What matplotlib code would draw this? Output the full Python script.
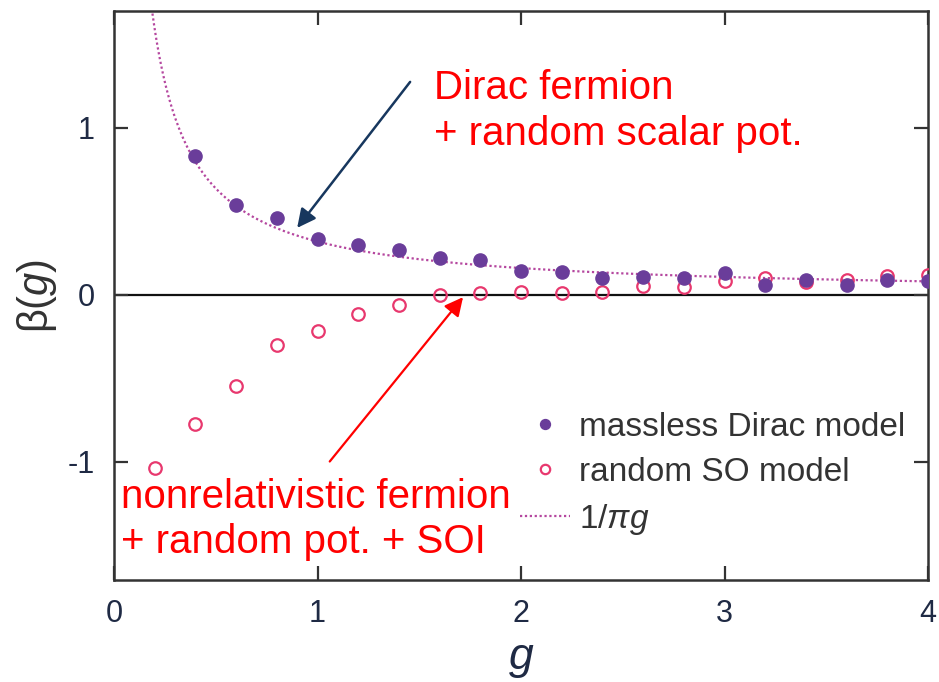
import numpy as np
import matplotlib
matplotlib.use("Agg")
import matplotlib.pyplot as plt

plt.rcParams['font.family'] = ['Liberation Sans', 'DejaVu Sans']
plt.rcParams['mathtext.fontset'] = 'custom'
plt.rcParams['mathtext.rm'] = 'Liberation Sans'
plt.rcParams['mathtext.it'] = 'Liberation Sans:italic'

# massless Dirac model
g_dirac = [0.4, 0.6, 0.8, 1.0, 1.2, 1.4, 1.6, 1.8, 2.0, 2.2, 2.4, 2.6, 2.8,
           3.0, 3.2, 3.4, 3.6, 3.8, 4.0]
beta_dirac = [0.83, 0.535, 0.46, 0.335, 0.30, 0.265, 0.22, 0.21, 0.14, 0.135,
              0.10, 0.105, 0.10, 0.13, 0.06, 0.085, 0.055, 0.09, 0.08]

# random SO model
g_so = [0.2, 0.4, 0.6, 0.8, 1.0, 1.2, 1.4, 1.6, 1.8, 2.0, 2.2, 2.4, 2.6, 2.8,
        3.0, 3.2, 3.4, 3.6, 3.8, 4.0]
beta_so = [-1.04, -0.775, -0.545, -0.30, -0.215, -0.115, -0.06, 0.0, 0.01,
           0.015, 0.01, 0.015, 0.05, 0.045, 0.08, 0.10, 0.075, 0.09, 0.11, 0.12]

xticks = [0, 1, 2, 3, 4]
yticks = [-1, 0, 1]

purple = '#6a3d9a'
pink = '#e8386e'
curve_col = '#b5479f'
red = '#ff0000'
navy = '#17375e'

fig = plt.figure(figsize=(9.39, 6.82), dpi=100)
ax = fig.add_axes([0.1214, 0.1496, 0.867, 0.8343])

# courbe 1/(pi g)
g_line = np.linspace(0.15, 4.0, 400)
ax.plot(g_line, 1 / (np.pi * g_line), ls=(0, (1, 1.2)), lw=1.6, color=curve_col,
        label=r'$1/\pi g$', zorder=2)

ax.plot(g_dirac, beta_dirac, 'o', ms=9.5, color=purple, mec=purple,
        label='massless Dirac model', zorder=4)
ax.plot(g_so, beta_so, 'o', ms=9, mfc='none', mec=pink, mew=1.6,
        label='random SO model', zorder=3)

ax.axhline(0, color='#111111', lw=1.6, zorder=1)

ax.set_xlim(0, 4)
ax.set_ylim(-1.71, 1.70)
ax.set_xticks(xticks)
ax.set_yticks(yticks)
ax.set_xticklabels([str(t) for t in xticks])
ax.set_yticklabels([str(t) for t in yticks])
ax.tick_params(direction='in', length=10, width=1.6, top=True, right=True,
               labelsize=22, colors='#333333', labelcolor='#1f2a44', pad=14)
for s in ax.spines.values():
    s.set_linewidth(1.8)
    s.set_color('#333333')

ax.set_xlabel(r'$g$', fontsize=32, color='#1f2a44', labelpad=7)
ax.set_ylabel(r'$\mathrm{\beta}(g)$', fontsize=30, color='#333333', labelpad=6)

# legende
h, l = ax.get_legend_handles_labels()
order = [1, 2, 0]
leg = ax.legend([h[i] for i in order], [l[i] for i in order],
                loc='lower right', bbox_to_anchor=(1.0, 0.035), frameon=False,
                fontsize=24, markerscale=0.75, handlelength=1.5,
                handletextpad=0.25, labelspacing=0.42, borderpad=0.2)
for t in leg.get_texts():
    t.set_color('#333333')

# annotations
ax.annotate('', xy=(0.90, 0.40), xytext=(1.455, 1.275),
            arrowprops=dict(arrowstyle='-|>', color=navy, lw=1.8,
                            mutation_scale=28, shrinkA=0, shrinkB=0))
ax.text(1.57, 1.35, 'Dirac fermion\n+ random scalar pot.', color=red,
        fontsize=29, va='top', ha='left', linespacing=1.24)

ax.annotate('', xy=(1.715, -0.015), xytext=(1.06, -1.0),
            arrowprops=dict(arrowstyle='-|>', color=red, lw=1.6,
                            mutation_scale=28, shrinkA=0, shrinkB=0))
ax.text(0.035, -1.10, 'nonrelativistic fermion\n+ random pot. + SOI', color=red,
        fontsize=29, va='top', ha='left', linespacing=1.24)

fig.savefig('out.png', dpi=100)
